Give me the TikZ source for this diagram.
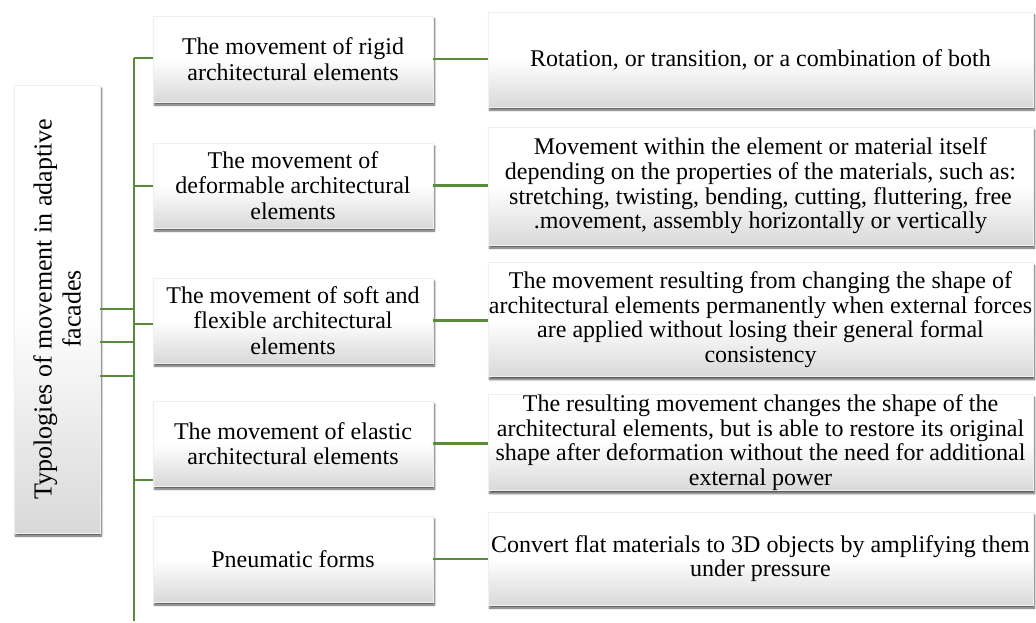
\documentclass[tikz,border=0pt]{standalone}
\usepackage{fontspec}
\setmainfont{Liberation Serif}
\usetikzlibrary{shadows.blur}
\definecolor{linegreen}{RGB}{88,140,58}
\tikzset{
  txt/.style={font=\fontsize{24}{24.7}\selectfont},
  box/.style={rectangle, inner sep=0pt, align=center, draw=black!6, line width=0.3pt,
    top color=white, bottom color=black!15, middle color=white,
    blur shadow={shadow xshift=1.5pt, shadow yshift=-3pt, shadow blur steps=6, shadow opacity=65},
    txt},
  midbox/.style={box, minimum width=280pt},
  rightbox/.style={box, minimum width=545pt},
  conn/.style={draw=linegreen, line width=2.2pt}
}
\begin{document}
\begin{tikzpicture}[x=1pt,y=-1pt]
\useasboundingbox (0,0) rectangle (1036,623);
% left box
\node[box, minimum width=86pt, minimum height=448pt] (L) at (57,309) {};
\node[rotate=90, align=center, font=\fontsize{26}{29}\selectfont] (Lt) at (L.center) {Typologies of movement in adaptive\\facades};
% middle boxes
\node[midbox, minimum height=86pt, font=\fontsize{24}{25.5}\selectfont] (M1) at (293,59) {The movement of rigid\\architectural elements};
\node[midbox, minimum height=85pt, font=\fontsize{24}{25.5}\selectfont] (M2) at (293,185.5) {The movement of\\deformable architectural\\elements};
\node[midbox, minimum height=85pt, font=\fontsize{24}{25.5}\selectfont] (M3) at (293,320.5) {The movement of soft and\\flexible architectural\\elements};
\node[midbox, minimum height=85pt, font=\fontsize{24}{25.5}\selectfont] (M4) at (293,443.5) {The movement of elastic\\architectural elements};
\node[midbox, minimum height=86pt] (M5) at (293,559) {Pneumatic forms};
% right boxes
\node[rightbox, minimum height=95pt] (R1) at (760.5,59.5) {Rotation, or transition, or a combination of both};
\node[rightbox, minimum height=118pt] (R2) at (760.5,186) {Movement within the element or material itself\\depending on the properties of the materials, such as:\\stretching, twisting, bending, cutting, fluttering, free\\.movement, assembly horizontally or vertically};
\node[rightbox, minimum height=114pt] (R3) at (760.5,319.5) {The movement resulting from changing the shape of\\architectural elements permanently when external forces\\are applied without losing their general formal\\consistency};
\node[rightbox, minimum height=95pt] (R4) at (760.5,442.5) {The resulting movement changes the shape of the\\architectural elements, but is able to restore its original\\shape after deformation without the need for additional\\external power};
\node[rightbox, minimum height=93pt] (R5) at (760.5,558.5) {Convert flat materials to 3D objects by amplifying them\\under pressure};
% trunk
\coordinate (t0) at (134,58);
\coordinate (tb) at (134,621);
\coordinate (t2) at (134,186);
\coordinate (t3) at (134,324);
\coordinate (t4) at (134,480);
\coordinate (s1) at (134,309);
\coordinate (s2) at (134,342);
\coordinate (s3) at (134,376);
\draw[conn] (t0) -- (tb);
\draw[conn] (t0) -- (t0 -| M1.west);
\draw[conn] (t2) -- (t2 -| M2.west);
\draw[conn] (t3) -- (t3 -| M3.west);
\draw[conn] (t4) -- (t4 -| M4.west);
\draw[conn] (s1 -| L.east) -- (s1);
\draw[conn] (s2 -| L.east) -- (s2);
\draw[conn] (s3 -| L.east) -- (s3);
% middle to right
\draw[conn] (M1.east) -- (M1.east -| R1.west);
\draw[conn] (M2.east) -- (M2.east -| R2.west);
\draw[conn] (M3.east) -- (M3.east -| R3.west);
\draw[conn] (M4.east) -- (M4.east -| R4.west);
\draw[conn] (M5.east) -- (M5.east -| R5.west);
\end{tikzpicture}
\end{document}
